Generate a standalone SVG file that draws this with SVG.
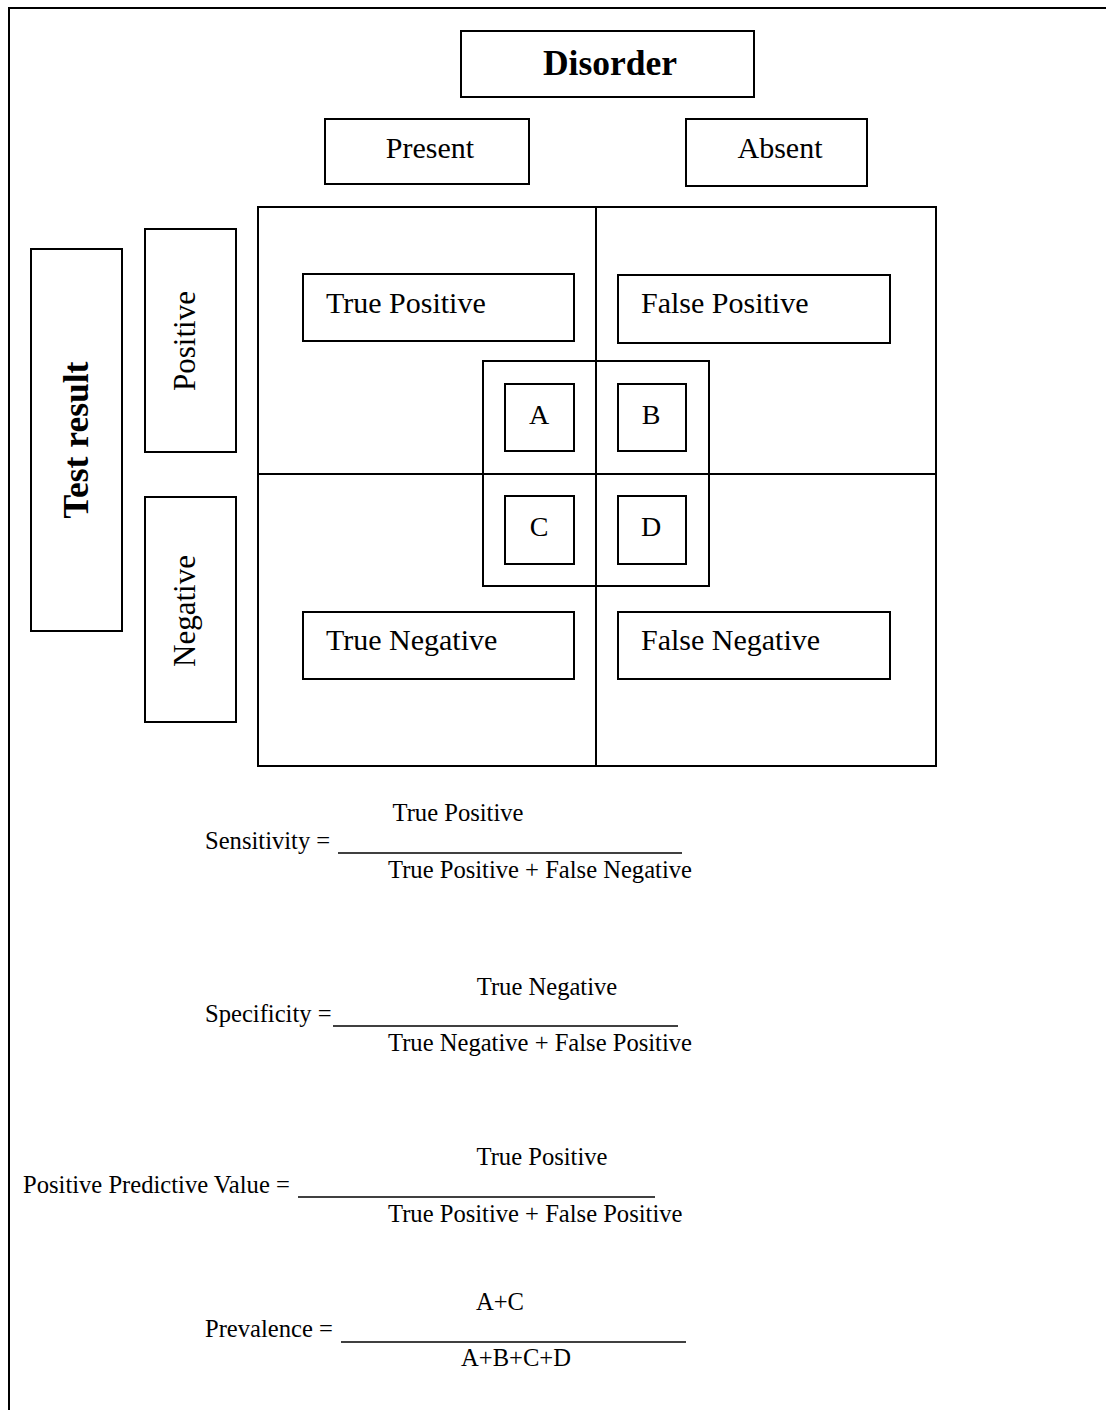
<svg xmlns="http://www.w3.org/2000/svg" width="1106" height="1410" viewBox="0 0 1106 1410">
  <style>
    .box { fill: #fff; stroke: #000; stroke-width: 2; }
    .line { stroke: #000; stroke-width: 2; fill: none; }
    .frac { stroke: #000; stroke-width: 1.5; }
    .lbl { font-family: "Liberation Serif", "Times New Roman", serif; fill: #000; }
    .hd { font-size: 35.5px; font-weight: bold; }
    .cat { font-size: 30px; }
    .side { font-size: 31px; }
    .cell { font-size: 30px; }
    .letter { font-size: 28px; }
    .f { font-size: 24.6px; }
  </style>

  <!-- page frame (top and left edges) -->
  <path class="line" d="M9,1410 V8 H1106"/>

  <!-- column header -->
  <g id="disorder">
    <rect class="box" x="461" y="31" width="293" height="66"/>
    <text class="lbl hd" x="610" y="75" text-anchor="middle">Disorder</text>
  </g>
  <g id="present">
    <rect class="box" x="325" y="119" width="204" height="65"/>
    <text class="lbl cat" x="430" y="158" text-anchor="middle">Present</text>
  </g>
  <g id="absent">
    <rect class="box" x="686" y="119" width="181" height="67"/>
    <text class="lbl cat" x="780" y="158" text-anchor="middle">Absent</text>
  </g>

  <!-- row header -->
  <g id="test-result">
    <rect class="box" x="31" y="249" width="91" height="382"/>
    <text class="lbl hd" transform="translate(88,440) rotate(-90)" text-anchor="middle">Test result</text>
  </g>
  <g id="positive">
    <rect class="box" x="145" y="229" width="91" height="223"/>
    <text class="lbl side" transform="translate(195,341) rotate(-90)" text-anchor="middle">Positive</text>
  </g>
  <g id="negative">
    <rect class="box" x="145" y="497" width="91" height="225"/>
    <text class="lbl side" transform="translate(195,611) rotate(-90)" text-anchor="middle">Negative</text>
  </g>

  <!-- 2x2 table frame -->
  <g id="table">
    <rect class="box" x="258" y="207" width="678" height="559"/>
  </g>

  <!-- outcome cells -->
  <g id="true-positive">
    <rect class="box" x="303" y="274" width="271" height="67"/>
    <text class="lbl cell" x="326" y="313">True Positive</text>
  </g>
  <g id="false-positive">
    <rect class="box" x="618" y="275" width="272" height="68"/>
    <text class="lbl cell" x="641" y="313">False Positive</text>
  </g>
  <g id="true-negative">
    <rect class="box" x="303" y="612" width="271" height="67"/>
    <text class="lbl cell" x="326" y="650">True Negative</text>
  </g>
  <g id="false-negative">
    <rect class="box" x="618" y="612" width="272" height="67"/>
    <text class="lbl cell" x="641" y="650">False Negative</text>
  </g>

  <!-- central count square -->
  <g id="counts">
    <rect class="box" x="483" y="361" width="226" height="225"/>
  </g>

  <!-- dividers drawn over the table -->
  <g id="connectors">
    <line class="line" x1="596" y1="207" x2="596" y2="766"/>
    <line class="line" x1="258" y1="474" x2="936" y2="474"/>
  </g>

  <g id="cell-a">
    <rect class="box" x="505" y="384" width="69" height="67"/>
    <text class="lbl letter" x="539" y="424" text-anchor="middle">A</text>
  </g>
  <g id="cell-b">
    <rect class="box" x="618" y="384" width="68" height="67"/>
    <text class="lbl letter" x="651" y="424" text-anchor="middle">B</text>
  </g>
  <g id="cell-c">
    <rect class="box" x="505" y="496" width="69" height="68"/>
    <text class="lbl letter" x="539" y="536" text-anchor="middle">C</text>
  </g>
  <g id="cell-d">
    <rect class="box" x="618" y="496" width="68" height="68"/>
    <text class="lbl letter" x="651" y="536" text-anchor="middle">D</text>
  </g>

  <!-- formulas -->
  <g id="sensitivity">
    <text class="lbl f" x="458" y="821" text-anchor="middle">True Positive</text>
    <text class="lbl f" x="205" y="849">Sensitivity =</text>
    <line class="frac" x1="338" y1="853" x2="682" y2="853"/>
    <text class="lbl f" x="388" y="878">True Positive + False Negative</text>
  </g>
  <g id="specificity">
    <text class="lbl f" x="547" y="995" text-anchor="middle">True Negative</text>
    <text class="lbl f" x="205" y="1022">Specificity =</text>
    <line class="frac" x1="333" y1="1026" x2="678" y2="1026"/>
    <text class="lbl f" x="388" y="1051">True Negative + False Positive</text>
  </g>
  <g id="ppv">
    <text class="lbl f" x="542" y="1165" text-anchor="middle">True Positive</text>
    <text class="lbl f" x="23" y="1193">Positive Predictive Value =</text>
    <line class="frac" x1="298" y1="1197" x2="655" y2="1197"/>
    <text class="lbl f" x="388" y="1222">True Positive + False Positive</text>
  </g>
  <g id="prevalence">
    <text class="lbl f" x="500" y="1310" text-anchor="middle">A+C</text>
    <text class="lbl f" x="205" y="1337">Prevalence =</text>
    <line class="frac" x1="341" y1="1342" x2="686" y2="1342"/>
    <text class="lbl f" x="516" y="1366" text-anchor="middle">A+B+C+D</text>
  </g>
</svg>
